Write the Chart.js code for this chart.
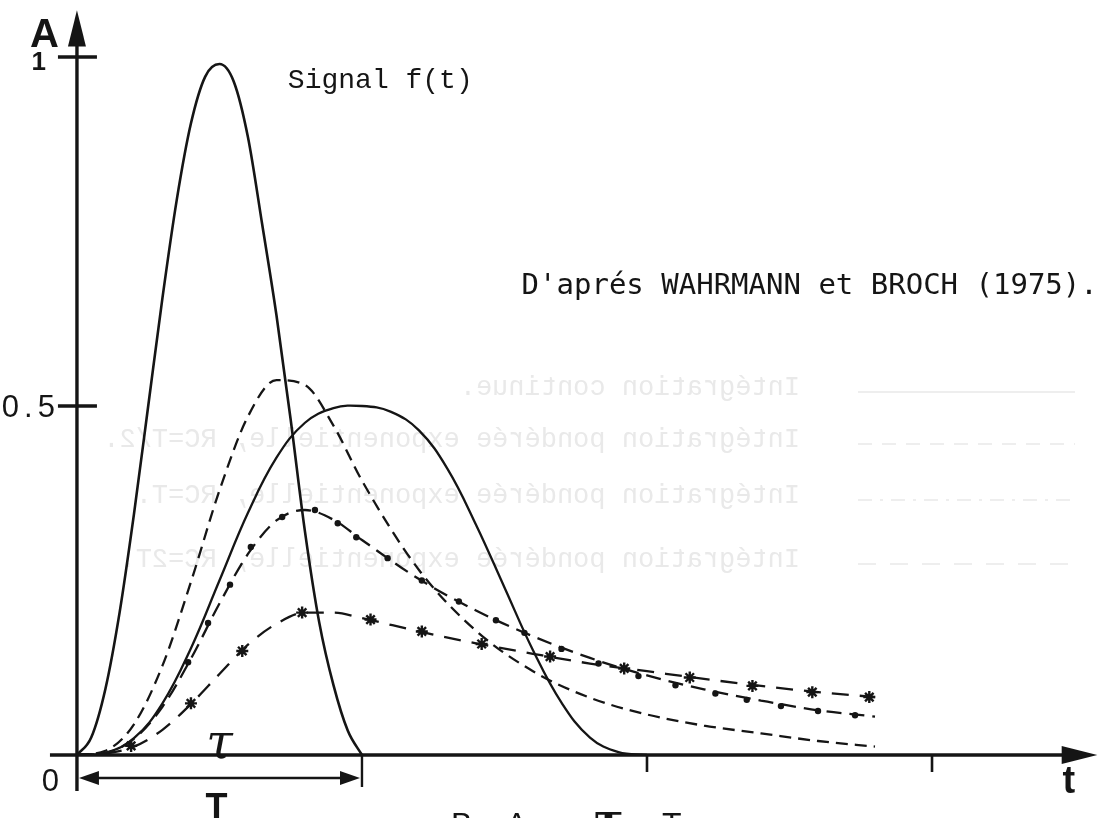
<!DOCTYPE html>
<html lang="fr">
<head>
<meta charset="utf-8">
<title>Intégration pondérée exponentielle</title>
<script src="https://cdn.jsdelivr.net/npm/chart.js"></script>
<style>
    html, body { margin: 0; padding: 0; background: #fff; }
    #cadre { width: 1113px; height: 818px; position: relative; }
</style>
</head>
<body>
<div id="cadre"><canvas id="graphique"></canvas></div>
<script>
// Signal f(t), temps en unités de T
const signalT = [0, 0.05, 0.1, 0.15, 0.2, 0.25, 0.3, 0.35, 0.4, 0.45, 0.5, 0.55, 0.6, 0.65, 0.7, 0.75, 0.8, 0.85, 0.9, 0.95, 1.0];
const signalA = [0, 0.025, 0.095, 0.205, 0.345, 0.5, 0.655, 0.795, 0.905, 0.972, 0.99, 0.965, 0.885, 0.76, 0.63, 0.48, 0.32, 0.19, 0.1, 0.035, 0];

// Intégration continue (fenêtre T)
const continueT = [0, 0.1, 0.2, 0.3, 0.4, 0.5, 0.6, 0.7, 0.8, 0.9, 1.0, 1.1, 1.2, 1.3, 1.4, 1.5, 1.6, 1.7, 1.8, 1.9, 2.0];
const continueA = [0, 0.003, 0.024, 0.074, 0.153, 0.25, 0.347, 0.426, 0.476, 0.497, 0.5, 0.492, 0.465, 0.41, 0.33, 0.24, 0.15, 0.075, 0.025, 0.004, 0];

// Intégrations pondérées exponentielles
const tempsRC = [0, 0.1, 0.2, 0.3, 0.4, 0.5, 0.6, 0.7, 0.8, 0.9, 1.0, 1.2, 1.4, 1.6, 1.8, 2.0, 2.2, 2.4, 2.6, 2.8];
const rcDemiA = [0, 0.006, 0.044, 0.128, 0.248, 0.379, 0.485, 0.537, 0.53, 0.472, 0.393, 0.265, 0.178, 0.12, 0.082, 0.058, 0.042, 0.031, 0.02, 0.012];
const rcUnA = [0, 0.003, 0.023, 0.069, 0.138, 0.217, 0.288, 0.336, 0.351, 0.337, 0.308, 0.252, 0.207, 0.17, 0.139, 0.114, 0.094, 0.078, 0.064, 0.055];
const rcDeuxA = [0, 0.002, 0.012, 0.036, 0.073, 0.116, 0.158, 0.188, 0.204, 0.204, 0.196, 0.177, 0.16, 0.145, 0.131, 0.12, 0.109, 0.099, 0.09, 0.083];

// points posés sur la courbe RC = T
const pointsRcT = [0.39, 0.46, 0.537, 0.61, 0.72, 0.835, 0.915, 0.98, 1.09, 1.21, 1.34, 1.47, 1.57, 1.70, 1.83, 1.97, 2.1, 2.24, 2.35, 2.47, 2.6, 2.73];
const pointsRcA = [0.133, 0.189, 0.244, 0.298, 0.341, 0.351, 0.332, 0.312, 0.282, 0.25, 0.22, 0.193, 0.175, 0.152, 0.131, 0.113, 0.1, 0.088, 0.079, 0.07, 0.063, 0.057];

// étoiles posées sur la courbe RC = 2T
const etoilesT = [0.19, 0.40, 0.58, 0.79, 1.03, 1.21, 1.42, 1.66, 1.92, 2.15, 2.37, 2.58, 2.78];
const etoilesA = [0.013, 0.074, 0.149, 0.204, 0.194, 0.177, 0.159, 0.141, 0.124, 0.111, 0.099, 0.09, 0.083];

// graduations
const yTicks = [1, 0.5];
const yTickLabels = ['1', '0.5'];
const xTicks = [2, 3];

// légende vue par transparence (verso de la page)
const legendeVerso = [
    'Intégration continue.',
    'Intégration pondérée exponentielle, RC=T/2.',
    'Intégration pondérée exponentielle, RC=T.',
    'Intégration pondérée exponentielle, RC=2T.'
];

const points = (ts, as) => ts.map((t, i) => ({ x: t, y: as[i] }));
const encre = '#151515';

const dessinAxes = {
    id: 'dessinAxes',
    beforeDatasetsDraw(chart) {
        // fantôme du verso, en miroir
        const ctx = chart.ctx;
        const lignesY = [388, 440, 496, 560];
        ctx.save();
        ctx.fillStyle = '#e9e9e9';
        ctx.strokeStyle = '#e9e9e9';
        ctx.font = '27px "Liberation Mono"';
        ctx.textBaseline = 'middle';
        legendeVerso.forEach((txt, i) => {
            ctx.save();
            ctx.translate(800, lignesY[i]);
            ctx.scale(-1, 1);
            ctx.textAlign = 'left';
            ctx.fillText(txt, 0, 0);
            ctx.restore();
        });
        const motifs = [[], [14, 10], [14, 8, 3, 8], [18, 14]];
        ctx.lineWidth = 1.6;
        motifs.forEach((m, i) => {
            ctx.setLineDash(m);
            ctx.beginPath();
            ctx.moveTo(858, lignesY[i] + 4);
            ctx.lineTo(1075, lignesY[i] + 4);
            ctx.stroke();
        });
        ctx.restore();
    },
    afterDatasetsDraw(chart) {
        const ctx = chart.ctx;
        const sx = chart.scales.x, sy = chart.scales.y;
        const X = v => sx.getPixelForValue(v);
        const Y = v => sy.getPixelForValue(v);
        const x0 = X(0), y0 = Y(0);

        const trait = (a, b, c, d) => { ctx.beginPath(); ctx.moveTo(a, b); ctx.lineTo(c, d); ctx.stroke(); };
        const fleche = (pts) => {
            ctx.beginPath();
            ctx.moveTo(pts[0], pts[1]);
            ctx.lineTo(pts[2], pts[3]);
            ctx.lineTo(pts[4], pts[5]);
            ctx.closePath();
            ctx.fill();
        };

        ctx.save();
        ctx.strokeStyle = encre;
        ctx.fillStyle = encre;
        ctx.setLineDash([]);
        ctx.lineCap = 'butt';

        // axe A
        ctx.lineWidth = 3.4;
        trait(x0, y0 + 36, x0, Y(1.02));
        fleche([x0, Y(1.067), x0 - 9, Y(1.015), x0 + 9, Y(1.015)]);

        // axe t
        trait(x0 - 27, y0, X(3.47), y0);
        fleche([X(3.58), y0, X(3.455), y0 - 9, X(3.455), y0 + 9]);

        // graduations
        yTicks.forEach(v => trait(x0 - 19, Y(v), x0 + 20, Y(v)));
        ctx.lineWidth = 2.6;
        xTicks.forEach(v => trait(X(v), y0, X(v), y0 + 17));

        // cote T
        const yT = y0 + 23;
        ctx.lineWidth = 2.4;
        trait(X(1), y0, X(1), y0 + 32);
        trait(x0 + 16, yT, X(1) - 16, yT);
        fleche([x0 + 2, yT, x0 + 22, yT - 7, x0 + 22, yT + 7]);
        fleche([X(1) - 2, yT, X(1) - 22, yT - 7, X(1) - 22, yT + 7]);

        // textes des axes
        ctx.textBaseline = 'alphabetic';
        ctx.textAlign = 'right';
        ctx.font = 'bold 40px "Liberation Sans"';
        ctx.fillText('A', x0 - 18, Y(1) - 10);
        ctx.font = 'bold 26px "Liberation Sans"';
        ctx.fillText(yTickLabels[0], x0 - 31, Y(yTicks[0]) + 13);
        ctx.textBaseline = 'middle';
        ctx.font = '31px "Liberation Sans"';
        ctx.letterSpacing = '5px';
        ctx.fillText(yTickLabels[1], x0 - 17, Y(yTicks[1]) + 2);
        ctx.letterSpacing = '0px';
        ctx.fillText('0', x0 - 18, y0 + 27);

        ctx.textAlign = 'center';
        ctx.textBaseline = 'alphabetic';
        ctx.font = 'bold 38px "Liberation Sans"';
        ctx.fillText('t', X(3.48), y0 + 38);
        ctx.font = 'bold 36px "Liberation Sans"';
        ctx.fillText('T', X(0.49), y0 + 64);
        ctx.font = 'italic 48px "DejaVu Serif"';
        ctx.fillText('τ', X(0.5), y0 + 3);

        // annotations
        ctx.textAlign = 'left';
        ctx.font = '28px "Liberation Mono"';
        ctx.fillText('Signal f(t)', X(0.74), Y(0.955));
        ctx.font = '29px "DejaVu Sans Mono"';
        ctx.fillText("D'aprés WAHRMANN et BROCH (1975).", X(1.56), Y(0.661));

        // légende de la figure, coupée par le bas du cadrage
        ctx.font = '32px "Liberation Sans"';
        ctx.fillText('B.', 451, y0 + 80);
        ctx.fillText('Avec', 506, y0 + 80);
        ctx.font = 'bold 44px "DejaVu Serif"';
        ctx.fillText('τ', 594, y0 + 80);
        ctx.font = '32px "Liberation Sans"';
        ctx.fillText('=', 632, y0 + 80);
        ctx.fillText('T', 662, y0 + 80);
        ctx.restore();
    }
};

new Chart(document.getElementById('graphique'), {
    type: 'scatter',
    data: {
        datasets: [
            {
                label: 'Signal f(t)',
                data: points(signalT, signalA),
                showLine: true,
                borderColor: encre,
                borderWidth: 2.6,
                pointRadius: 0,
                cubicInterpolationMode: 'monotone'
            },
            {
                label: 'Intégration continue',
                data: points(continueT, continueA),
                showLine: true,
                borderColor: encre,
                borderWidth: 2.3,
                pointRadius: 0,
                tension: 0.4
            },
            {
                label: 'Intégration pondérée exponentielle, RC=T/2',
                data: points(tempsRC, rcDemiA),
                showLine: true,
                borderColor: encre,
                borderWidth: 2.3,
                borderDash: [12, 7],
                pointRadius: 0,
                cubicInterpolationMode: 'monotone'
            },
            {
                label: 'Intégration pondérée exponentielle, RC=T',
                data: points(tempsRC, rcUnA),
                showLine: true,
                borderColor: encre,
                borderWidth: 2.3,
                borderDash: [15, 8],
                pointRadius: 0,
                cubicInterpolationMode: 'monotone'
            },
            {
                label: 'RC=T (points)',
                data: points(pointsRcT, pointsRcA),
                showLine: false,
                pointStyle: 'circle',
                pointRadius: 3.2,
                borderWidth: 0,
                backgroundColor: encre
            },
            {
                label: 'Intégration pondérée exponentielle, RC=2T',
                data: points(tempsRC, rcDeuxA),
                showLine: true,
                borderColor: encre,
                borderWidth: 2.3,
                borderDash: [17, 11],
                pointRadius: 0,
                cubicInterpolationMode: 'monotone'
            },
            {
                label: 'RC=2T (repères)',
                data: points(etoilesT, etoilesA),
                showLine: false,
                pointStyle: 'star',
                pointRadius: 6,
                borderColor: encre,
                backgroundColor: encre,
                borderWidth: 2.4
            }
        ]
    },
    options: {
        responsive: true,
        maintainAspectRatio: false,
        animation: false,
        layout: { padding: 0, autoPadding: false },
        plugins: {
            legend: { display: false },
            tooltip: { enabled: false }
        },
        scales: {
            x: { type: 'linear', min: -0.27, max: 3.635, display: false },
            y: { type: 'linear', min: -0.0903, max: 1.0817, display: false }
        }
    },
    plugins: [dessinAxes]
});
</script>
</body>
</html>
